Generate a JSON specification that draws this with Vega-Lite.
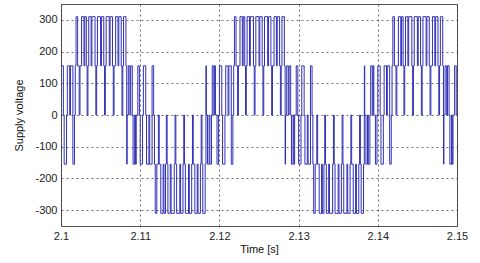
{
"$schema": "https://vega.github.io/schema/vega-lite/v6.json",
"width": 396,
"height": 222,
"autosize": {"type": "none"},
"padding": {"left": 61, "top": 4, "right": 23, "bottom": 37},
"background": "white",
"config": {
  "view": {"stroke": "#555555", "strokeWidth": 1},
  "axis": {
    "labelFont": "Liberation Sans", "labelFontSize": 11, "labelColor": "#222222",
    "titleFont": "Liberation Sans", "titleFontSize": 11, "titleFontWeight": "normal", "titleColor": "#111111",
    "domain": false, "ticks": false,
    "grid": true, "gridColor": "#333333", "gridDash": [2, 3], "gridWidth": 0.8, "gridOpacity": 0.9,
    "labelPadding": 4, "labelFlush": false
  }
},
"data": {"values": [
{"t":2.1,"v":155},{"t":2.1003,"v":0},{"t":2.1004,"v":-155},{"t":2.1007,"v":0},{"t":2.1008,"v":155},{"t":2.1011,"v":0},{"t":2.1012,"v":155},{"t":2.1015,"v":-155},{"t":2.1017,"v":0},{"t":2.1018,"v":155},{"t":2.1019,"v":310},{"t":2.1021,"v":155},{"t":2.1023,"v":0},{"t":2.1024,"v":155},{"t":2.1026,"v":310},{"t":2.1029,"v":155},{"t":2.103,"v":310},{"t":2.1032,"v":155},{"t":2.1033,"v":0},{"t":2.1034,"v":155},{"t":2.1035,"v":310},{"t":2.1038,"v":155},{"t":2.1039,"v":310},{"t":2.1043,"v":155},{"t":2.1044,"v":0},{"t":2.1045,"v":155},{"t":2.1046,"v":310},{"t":2.105,"v":155},{"t":2.1051,"v":310},{"t":2.1054,"v":155},{"t":2.1055,"v":0},{"t":2.1056,"v":155},{"t":2.1057,"v":310},{"t":2.1061,"v":155},{"t":2.1062,"v":310},{"t":2.1065,"v":155},{"t":2.1066,"v":0},{"t":2.1067,"v":155},{"t":2.1069,"v":310},{"t":2.1072,"v":155},{"t":2.1073,"v":310},{"t":2.1076,"v":155},{"t":2.1077,"v":0},{"t":2.1078,"v":155},{"t":2.1079,"v":310},{"t":2.1082,"v":155},{"t":2.1083,"v":-155},{"t":2.10835,"v":0},{"t":2.1085,"v":155},{"t":2.1087,"v":0},{"t":2.1088,"v":155},{"t":2.109,"v":0},{"t":2.1091,"v":-155},{"t":2.1093,"v":0},{"t":2.1094,"v":-155},{"t":2.1095,"v":0},{"t":2.1097,"v":155},{"t":2.1099,"v":0},
{"t":2.11,"v":-155},{"t":2.1103,"v":0},{"t":2.1104,"v":155},{"t":2.1107,"v":0},{"t":2.1108,"v":-155},{"t":2.1111,"v":0},{"t":2.1112,"v":-155},{"t":2.1115,"v":155},{"t":2.1117,"v":0},{"t":2.1118,"v":-155},{"t":2.1119,"v":-310},{"t":2.1121,"v":-155},{"t":2.1123,"v":0},{"t":2.1124,"v":-155},{"t":2.1126,"v":-310},{"t":2.1129,"v":-155},{"t":2.113,"v":-310},{"t":2.1132,"v":-155},{"t":2.1133,"v":0},{"t":2.1134,"v":-155},{"t":2.1135,"v":-310},{"t":2.1138,"v":-155},{"t":2.1139,"v":-310},{"t":2.1143,"v":-155},{"t":2.1144,"v":0},{"t":2.1145,"v":-155},{"t":2.1146,"v":-310},{"t":2.115,"v":-155},{"t":2.1151,"v":-310},{"t":2.1154,"v":-155},{"t":2.1155,"v":0},{"t":2.1156,"v":-155},{"t":2.1157,"v":-310},{"t":2.1161,"v":-155},{"t":2.1162,"v":-310},{"t":2.1165,"v":-155},{"t":2.1166,"v":0},{"t":2.1167,"v":-155},{"t":2.1169,"v":-310},{"t":2.1172,"v":-155},{"t":2.1173,"v":-310},{"t":2.1176,"v":-155},{"t":2.1177,"v":0},{"t":2.1178,"v":-155},{"t":2.1179,"v":-310},{"t":2.1182,"v":-155},{"t":2.1183,"v":155},{"t":2.11835,"v":0},{"t":2.1185,"v":-155},{"t":2.1187,"v":0},{"t":2.1188,"v":-155},{"t":2.119,"v":0},{"t":2.1191,"v":155},{"t":2.1193,"v":0},{"t":2.1194,"v":155},{"t":2.1195,"v":0},{"t":2.1197,"v":-155},{"t":2.1199,"v":0},
{"t":2.12,"v":155},{"t":2.1203,"v":0},{"t":2.1204,"v":-155},{"t":2.1207,"v":0},{"t":2.1208,"v":155},{"t":2.1211,"v":0},{"t":2.1212,"v":155},{"t":2.1215,"v":-155},{"t":2.1217,"v":0},{"t":2.1218,"v":155},{"t":2.1219,"v":310},{"t":2.1221,"v":155},{"t":2.1223,"v":0},{"t":2.1224,"v":155},{"t":2.1226,"v":310},{"t":2.1229,"v":155},{"t":2.123,"v":310},{"t":2.1232,"v":155},{"t":2.1233,"v":0},{"t":2.1234,"v":155},{"t":2.1235,"v":310},{"t":2.1238,"v":155},{"t":2.1239,"v":310},{"t":2.1243,"v":155},{"t":2.1244,"v":0},{"t":2.1245,"v":155},{"t":2.1246,"v":310},{"t":2.125,"v":155},{"t":2.1251,"v":310},{"t":2.1254,"v":155},{"t":2.1255,"v":0},{"t":2.1256,"v":155},{"t":2.1257,"v":310},{"t":2.1261,"v":155},{"t":2.1262,"v":310},{"t":2.1265,"v":155},{"t":2.1266,"v":0},{"t":2.1267,"v":155},{"t":2.1269,"v":310},{"t":2.1272,"v":155},{"t":2.1273,"v":310},{"t":2.1276,"v":155},{"t":2.1277,"v":0},{"t":2.1278,"v":155},{"t":2.1279,"v":310},{"t":2.1282,"v":155},{"t":2.1283,"v":-155},{"t":2.12835,"v":0},{"t":2.1285,"v":155},{"t":2.1287,"v":0},{"t":2.1288,"v":155},{"t":2.129,"v":0},{"t":2.1291,"v":-155},{"t":2.1293,"v":0},{"t":2.1294,"v":-155},{"t":2.1295,"v":0},{"t":2.1297,"v":155},{"t":2.1299,"v":0},
{"t":2.13,"v":-155},{"t":2.1303,"v":0},{"t":2.1304,"v":155},{"t":2.1307,"v":0},{"t":2.1308,"v":-155},{"t":2.1311,"v":0},{"t":2.1312,"v":-155},{"t":2.1315,"v":155},{"t":2.1317,"v":0},{"t":2.1318,"v":-155},{"t":2.1319,"v":-310},{"t":2.1321,"v":-155},{"t":2.1323,"v":0},{"t":2.1324,"v":-155},{"t":2.1326,"v":-310},{"t":2.1329,"v":-155},{"t":2.133,"v":-310},{"t":2.1332,"v":-155},{"t":2.1333,"v":0},{"t":2.1334,"v":-155},{"t":2.1335,"v":-310},{"t":2.1338,"v":-155},{"t":2.1339,"v":-310},{"t":2.1343,"v":-155},{"t":2.1344,"v":0},{"t":2.1345,"v":-155},{"t":2.1346,"v":-310},{"t":2.135,"v":-155},{"t":2.1351,"v":-310},{"t":2.1354,"v":-155},{"t":2.1355,"v":0},{"t":2.1356,"v":-155},{"t":2.1357,"v":-310},{"t":2.1361,"v":-155},{"t":2.1362,"v":-310},{"t":2.1365,"v":-155},{"t":2.1366,"v":0},{"t":2.1367,"v":-155},{"t":2.1369,"v":-310},{"t":2.1372,"v":-155},{"t":2.1373,"v":-310},{"t":2.1376,"v":-155},{"t":2.1377,"v":0},{"t":2.1378,"v":-155},{"t":2.1379,"v":-310},{"t":2.1382,"v":-155},{"t":2.1383,"v":155},{"t":2.13835,"v":0},{"t":2.1385,"v":-155},{"t":2.1387,"v":0},{"t":2.1388,"v":-155},{"t":2.139,"v":0},{"t":2.1391,"v":155},{"t":2.1393,"v":0},{"t":2.1394,"v":155},{"t":2.1395,"v":0},{"t":2.1397,"v":-155},{"t":2.1399,"v":0},
{"t":2.14,"v":155},{"t":2.1403,"v":0},{"t":2.1404,"v":-155},{"t":2.1407,"v":0},{"t":2.1408,"v":155},{"t":2.1411,"v":0},{"t":2.1412,"v":155},{"t":2.1415,"v":-155},{"t":2.1417,"v":0},{"t":2.1418,"v":155},{"t":2.1419,"v":310},{"t":2.1421,"v":155},{"t":2.1423,"v":0},{"t":2.1424,"v":155},{"t":2.1426,"v":310},{"t":2.1429,"v":155},{"t":2.143,"v":310},{"t":2.1432,"v":155},{"t":2.1433,"v":0},{"t":2.1434,"v":155},{"t":2.1435,"v":310},{"t":2.1438,"v":155},{"t":2.1439,"v":310},{"t":2.1443,"v":155},{"t":2.1444,"v":0},{"t":2.1445,"v":155},{"t":2.1446,"v":310},{"t":2.145,"v":155},{"t":2.1451,"v":310},{"t":2.1454,"v":155},{"t":2.1455,"v":0},{"t":2.1456,"v":155},{"t":2.1457,"v":310},{"t":2.1461,"v":155},{"t":2.1462,"v":310},{"t":2.1465,"v":155},{"t":2.1466,"v":0},{"t":2.1467,"v":155},{"t":2.1469,"v":310},{"t":2.1472,"v":155},{"t":2.1473,"v":310},{"t":2.1476,"v":155},{"t":2.1477,"v":0},{"t":2.1478,"v":155},{"t":2.1479,"v":310},{"t":2.1482,"v":155},{"t":2.1483,"v":-155},{"t":2.14835,"v":0},{"t":2.1485,"v":155},{"t":2.1487,"v":0},{"t":2.1488,"v":155},{"t":2.149,"v":0},{"t":2.1491,"v":-155},{"t":2.1493,"v":0},{"t":2.1494,"v":-155},{"t":2.1495,"v":0},{"t":2.1497,"v":155},{"t":2.1499,"v":0},{"t":2.15,"v":0}
]},
"mark": {"type": "line", "interpolate": "step-after", "color": "#3030b8", "strokeWidth": 1, "clip": true},
"encoding": {
  "x": {"field": "t", "type": "quantitative",
    "scale": {"domain": [2.1, 2.15], "nice": false, "zero": false},
    "axis": {"values": [2.1, 2.11, 2.12, 2.13, 2.14, 2.15], "labelExpr": "toString(datum.value)", "labelAlign": "center", "title": "Time [s]", "titlePadding": 2}},
  "y": {"field": "v", "type": "quantitative",
    "scale": {"domain": [-350, 350], "nice": false},
    "axis": {"values": [-300, -200, -100, 0, 100, 200, 300], "labelExpr": "toString(datum.value)", "title": "Supply voltage", "titlePadding": 10}}
}
}
